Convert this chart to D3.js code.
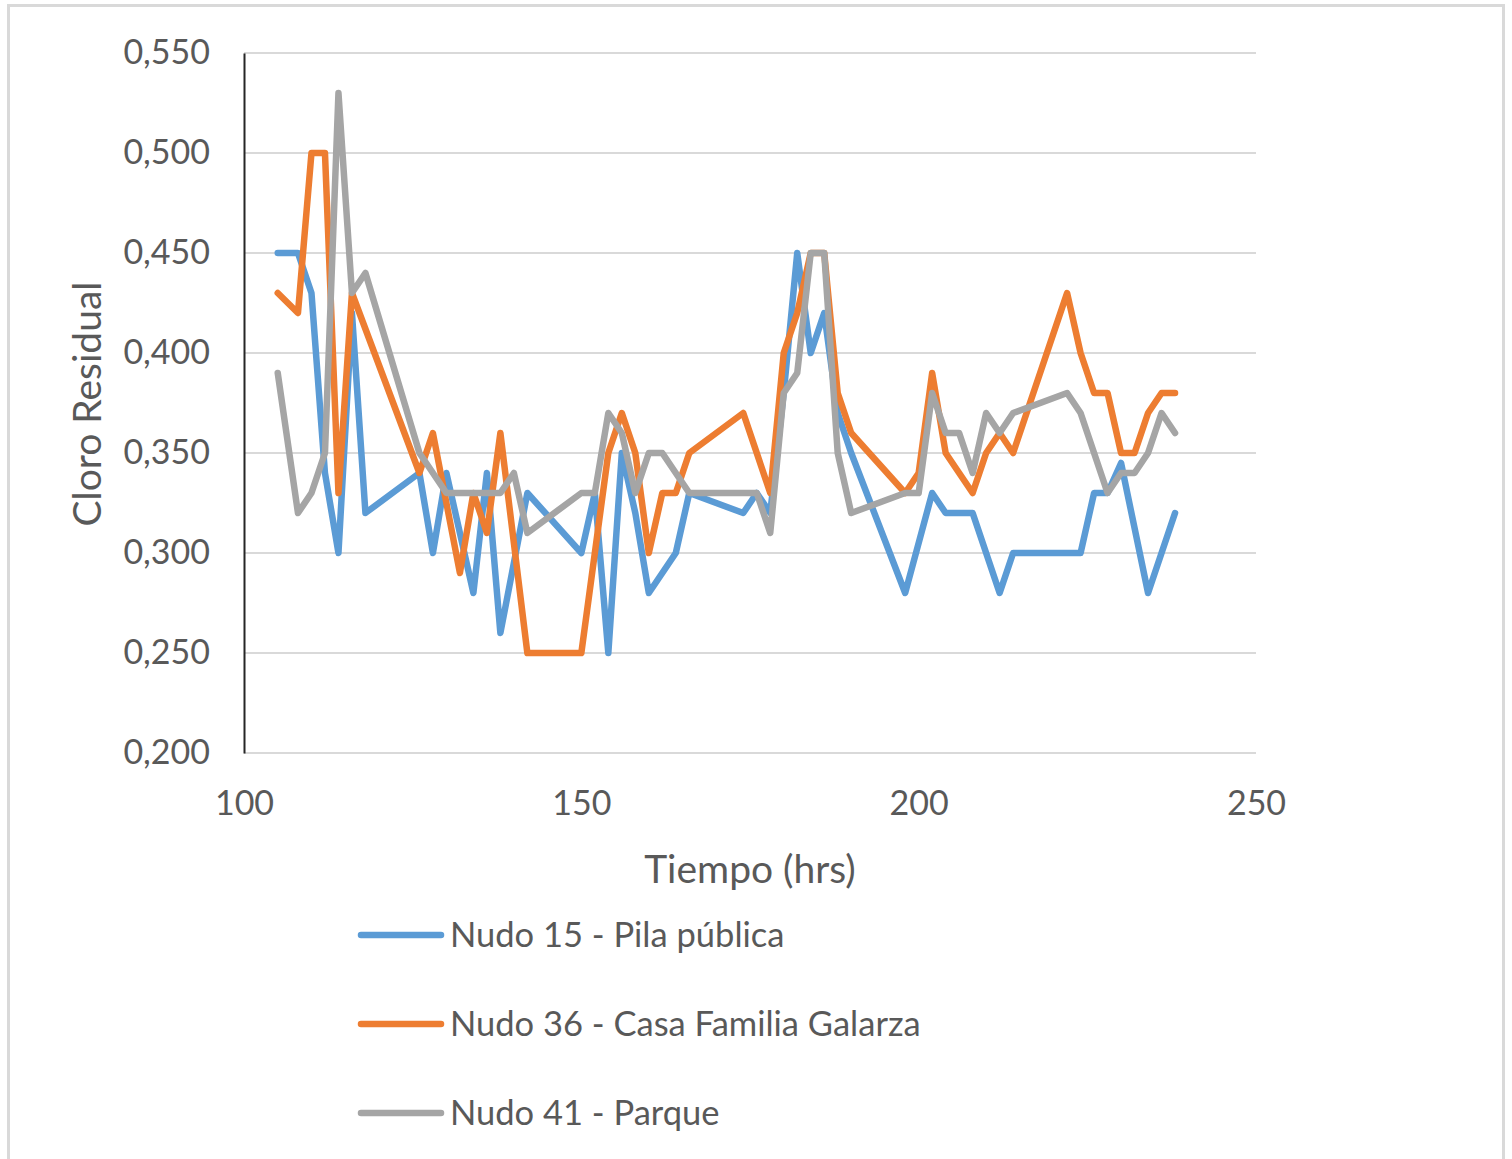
<!DOCTYPE html>
<html>
<head>
<meta charset="utf-8">
<script src="https://cdn.jsdelivr.net/npm/d3@7"></script>
<style>
  html, body { margin: 0; padding: 0; background: #ffffff; }
  svg { display: block; }
  text { font-family: Lato, "Open Sans", sans-serif; fill: #595959; }
</style>
</head>
<body>
<svg id="chart" width="1512" height="1159"></svg>
<script>
// Residual chlorine readings (mg/L) per node, sampled over time (hours)
const nudo15Times = [105,108,110,112,114,116,118,126,128,130,134,136,138,142,150,152,154,156,158,160,164,166,174,176,178,180,182,184,186,188,190,198,202,204,208,212,214,224,226,228,230,234,238];
const nudo15Values = [0.45,0.45,0.43,0.34,0.30,0.42,0.32,0.34,0.30,0.34,0.28,0.34,0.26,0.33,0.30,0.33,0.25,0.35,0.32,0.28,0.30,0.33,0.32,0.33,0.32,0.38,0.45,0.40,0.42,0.37,0.35,0.28,0.33,0.32,0.32,0.28,0.30,0.30,0.33,0.33,0.345,0.28,0.32];

const nudo36Times = [105,108,110,112,114,116,126,128,132,134,136,138,142,150,154,156,158,160,162,164,166,174,178,180,182,184,186,188,190,198,200,202,204,208,210,212,214,222,224,226,228,230,232,234,236,238];
const nudo36Values = [0.43,0.42,0.50,0.50,0.33,0.43,0.34,0.36,0.29,0.33,0.31,0.36,0.25,0.25,0.35,0.37,0.35,0.30,0.33,0.33,0.35,0.37,0.33,0.40,0.42,0.45,0.45,0.38,0.36,0.33,0.34,0.39,0.35,0.33,0.35,0.36,0.35,0.43,0.40,0.38,0.38,0.35,0.35,0.37,0.38,0.38];

const nudo41Times = [105,108,110,112,114,116,118,126,130,138,140,142,150,152,154,156,158,160,162,166,176,178,180,182,184,186,188,190,198,200,202,204,206,208,210,212,214,222,224,228,230,232,234,236,238];
const nudo41Values = [0.39,0.32,0.33,0.35,0.53,0.43,0.44,0.35,0.33,0.33,0.34,0.31,0.33,0.33,0.37,0.36,0.33,0.35,0.35,0.33,0.33,0.31,0.38,0.39,0.45,0.45,0.35,0.32,0.33,0.33,0.38,0.36,0.36,0.34,0.37,0.36,0.37,0.38,0.37,0.33,0.34,0.34,0.35,0.37,0.36];

const seriesNames = ["Nudo 15 - Pila pública", "Nudo 36 - Casa Familia Galarza", "Nudo 41 - Parque"];
const seriesColors = ["#5B9BD5", "#ED7D31", "#A5A5A5"];

const xTicks = [100, 150, 200, 250];
const yTicks = [0.20, 0.25, 0.30, 0.35, 0.40, 0.45, 0.50, 0.55];
const xTitle = "Tiempo (hrs)";
const yTitle = "Cloro Residual";

const series = [
  { name: seriesNames[0], color: seriesColors[0], pts: nudo15Times.map((t, i) => [t, nudo15Values[i]]) },
  { name: seriesNames[1], color: seriesColors[1], pts: nudo36Times.map((t, i) => [t, nudo36Values[i]]) },
  { name: seriesNames[2], color: seriesColors[2], pts: nudo41Times.map((t, i) => [t, nudo41Values[i]]) }
];

const svg = d3.select("#chart");

// outer frame
svg.append("rect")
  .attr("x", 8.5).attr("y", 5.5)
  .attr("width", 1495).attr("height", 1170)
  .attr("fill", "none").attr("stroke", "#d9d9d9").attr("stroke-width", 3);

const plot = { left: 244, right: 1256, top: 53, bottom: 753 };

const x = d3.scaleLinear().domain([100, 250]).range([plot.left, plot.right]);
const y = d3.scaleLinear().domain([0.20, 0.55]).range([plot.bottom, plot.top]);

// horizontal gridlines
svg.append("g")
  .selectAll("line")
  .data(yTicks)
  .join("line")
  .attr("x1", plot.left).attr("x2", plot.right)
  .attr("y1", d => y(d)).attr("y2", d => y(d))
  .attr("stroke", "#d9d9d9").attr("stroke-width", 2);

// y axis
const fmtY = d => d3.format(".3f")(d).replace(".", ",");
const yAxis = svg.append("g")
  .attr("transform", `translate(${plot.left},0)`)
  .call(d3.axisLeft(y).tickValues(yTicks).tickFormat(fmtY).tickSize(0).tickPadding(34));
yAxis.select(".domain").attr("stroke", "#262626").attr("stroke-width", 2);
yAxis.selectAll("text")
  .attr("font-size", 34).attr("fill", "#595959")
  .style("font-family", "Lato, 'Open Sans', sans-serif");

// x axis
const xAxis = svg.append("g")
  .attr("transform", `translate(0,${plot.bottom})`)
  .call(d3.axisBottom(x).tickValues(xTicks).tickFormat(d3.format("d")).tickSize(0).tickPadding(38));
xAxis.select(".domain").remove();
xAxis.selectAll("text")
  .attr("font-size", 34).attr("fill", "#595959")
  .style("font-family", "Lato, 'Open Sans', sans-serif");

// axis titles
svg.append("text")
  .attr("x", 750).attr("y", 883)
  .attr("text-anchor", "middle")
  .attr("font-size", 39)
  .text(xTitle);

svg.append("text")
  .attr("transform", "translate(101,404) rotate(-90)")
  .attr("text-anchor", "middle")
  .attr("font-size", 39)
  .text(yTitle);

// series lines
const line = d3.line().x(d => x(d[0])).y(d => y(d[1]));
svg.append("g")
  .selectAll("path")
  .data(series)
  .join("path")
  .attr("d", d => line(d.pts))
  .attr("fill", "none")
  .attr("stroke", d => d.color)
  .attr("stroke-width", 6.5)
  .attr("stroke-linejoin", "round")
  .attr("stroke-linecap", "round");

// legend
const legend = svg.append("g")
  .selectAll("g")
  .data(series)
  .join("g")
  .attr("transform", (d, i) => `translate(361,${935 + i * 89})`);
legend.append("line")
  .attr("x1", 0).attr("x2", 80)
  .attr("y1", 0).attr("y2", 0)
  .attr("stroke", d => d.color)
  .attr("stroke-width", 6.5)
  .attr("stroke-linecap", "round");
legend.append("text")
  .attr("x", 89).attr("y", 0).attr("dy", "0.36em")
  .attr("font-size", 34.5)
  .text(d => d.name);
</script>
</body>
</html>
